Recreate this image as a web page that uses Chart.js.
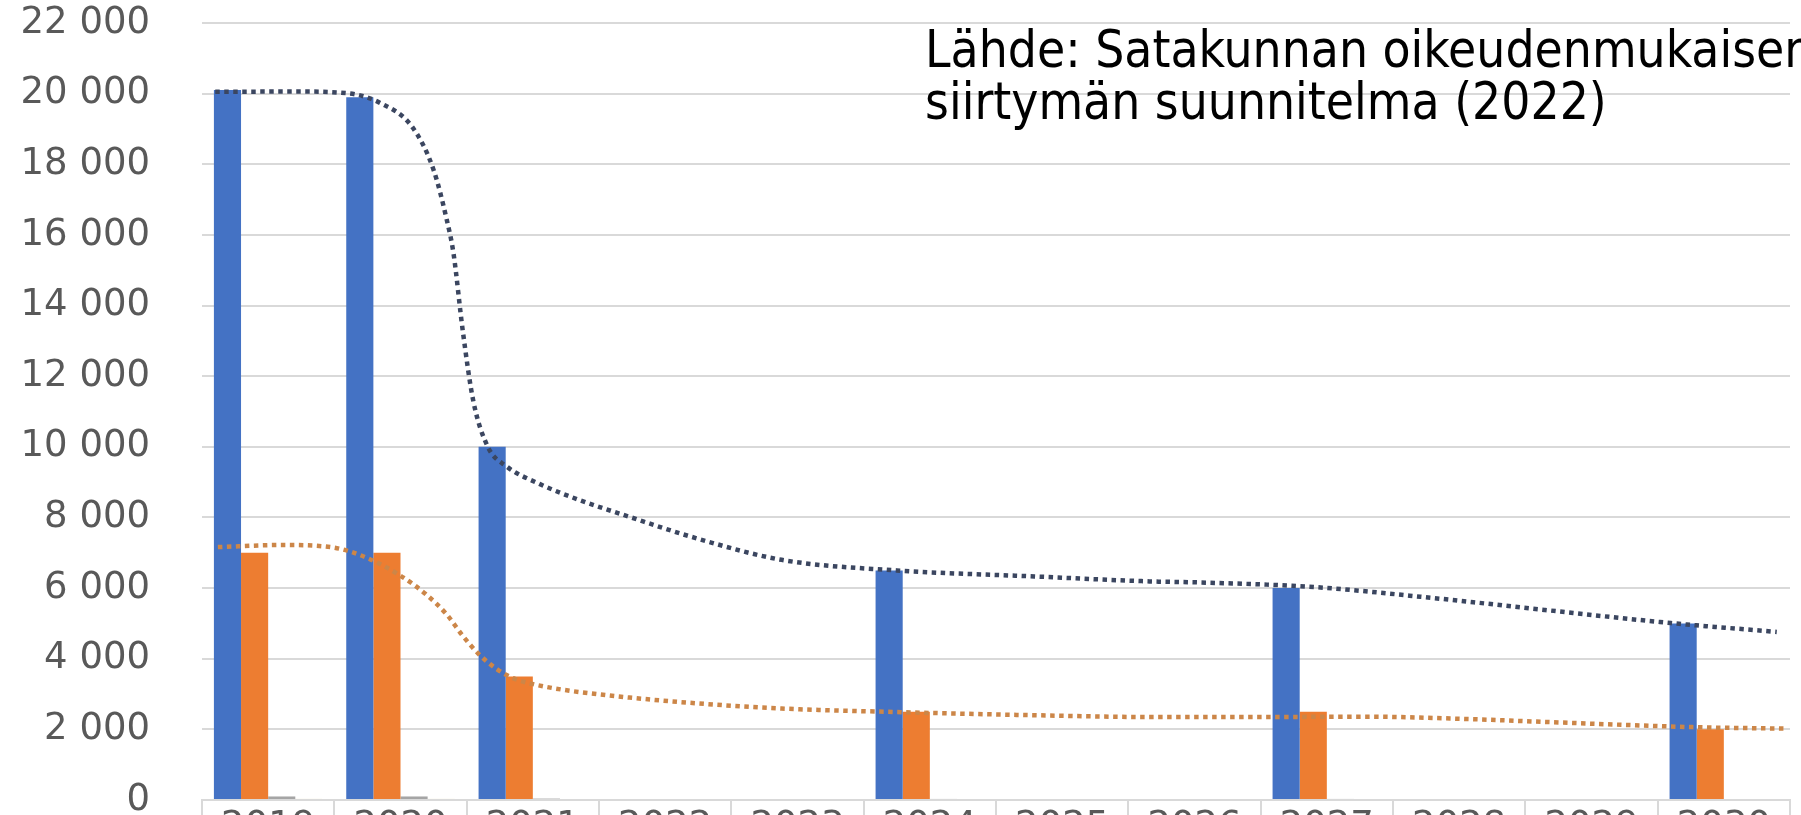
<!DOCTYPE html>
<html>
<head>
<meta charset="utf-8">
<script src="https://cdn.jsdelivr.net/npm/chart.js@4.4.0/dist/chart.umd.min.js"></script>
<style>
html, body { margin: 0; padding: 0; background: #fff; overflow: hidden; width: 1801px; height: 815px; }
#wrap { position: relative; width: 1801px; height: 870px; }
#src { position: absolute; left: 925px; top: 24px; font-family: "DejaVu Sans Condensed", "DejaVu Sans", sans-serif; font-stretch: condensed; font-size: 51px; line-height: 52px; color: #000; white-space: nowrap; }
</style>
</head>
<body>
<div id="wrap">
  <canvas id="c" width="1801" height="870"></canvas>
  <div id="src">Lähde: Satakunnan oikeudenmukaisen<br>siirtymän suunnitelma (2022)</div>
</div>
<script>
// Categories (years)
const categories = ['2019','2020','2021','2022','2023','2024','2025','2026','2027','2028','2029','2030'];

// Bar series values (null = no bar)
const seriesBlue   = [20100, 19900, 10000, null, null, 6500, null, null, 6000, null, null, 5000];
const seriesOrange = [7000, 7000, 3500, null, null, 2500, null, null, 2500, null, null, 2000];
const seriesGrey   = [100, 100, 40, null, null, 30, null, null, 30, null, null, null];
const seriesYellow = [30, 30, null, null, null, null, null, null, null, null, null, null];

// Dotted trend curves: [category position, value]
const trendBlue = [
  [-0.40, 20050], [0.20, 20060], [0.60, 20010], [0.85, 19730], [1.09, 19050],
  [1.25, 17840], [1.35, 16420], [1.40, 15490], [1.47, 13300], [1.55, 11300],
  [1.66, 10000], [1.80, 9450], [2.05, 8950], [2.34, 8510], [2.72, 8030],
  [3.20, 7450], [3.88, 6800], [4.75, 6500], [5.79, 6330], [6.66, 6190],
  [7.04, 6160], [7.90, 6030], [8.80, 5720], [9.65, 5380], [10.60, 5010], [11.40, 4760]
];
const trendOrange = [
  [-0.38, 7160], [0.10, 7220], [0.49, 7150], [0.75, 6850], [1.00, 6350],
  [1.20, 5800], [1.35, 5250], [1.47, 4650], [1.60, 4100], [1.73, 3700],
  [1.85, 3450], [1.98, 3300], [2.23, 3120], [2.48, 3000], [2.73, 2900],
  [3.30, 2720], [3.88, 2590], [4.75, 2490], [5.79, 2400], [6.66, 2350],
  [7.50, 2350], [8.30, 2360], [9.00, 2300], [9.65, 2210], [10.30, 2120],
  [10.80, 2060], [11.47, 2020]
];

// Y tick labels
const yTickLabels = ['0','2 000','4 000','6 000','8 000','10 000','12 000','14 000','16 000','18 000','20 000','22 000'];

const tickFont = { family: 'DejaVu Sans', size: 37 };
const toPoints = arr => arr.map((v, i) => ({ x: i, y: v }));
const toXY = arr => arr.map(p => ({ x: p[0], y: p[1] }));
const barCommon = { type: 'bar', categoryPercentage: 0.82, barPercentage: 1, order: 1 };
const lineCommon = { type: 'line', borderWidth: 4.5, borderDash: [4.5, 4.5], borderCapStyle: 'butt',
  pointRadius: 0, cubicInterpolationMode: 'monotone', fill: false, order: 0 };

const ctx = document.getElementById('c').getContext('2d');
new Chart(ctx, {
  data: {
    datasets: [
      Object.assign({ label: 'Trendi 1', data: toXY(trendBlue), borderColor: '#3B4660' }, lineCommon),
      Object.assign({ label: 'Trendi 2', data: toXY(trendOrange), borderColor: '#CC8648' }, lineCommon),
      Object.assign({ label: 'Sarja 1', data: toPoints(seriesBlue), backgroundColor: '#4472C4' }, barCommon),
      Object.assign({ label: 'Sarja 2', data: toPoints(seriesOrange), backgroundColor: '#ED7D31' }, barCommon),
      Object.assign({ label: 'Sarja 3', data: toPoints(seriesGrey), backgroundColor: '#A5A5A5' }, barCommon),
      Object.assign({ label: 'Sarja 4', data: toPoints(seriesYellow), backgroundColor: '#D9CF8A' }, barCommon)
    ]
  },
  options: {
    responsive: false,
    animation: false,
    devicePixelRatio: 1,
    layout: { padding: { top: 23, right: 11, bottom: 0, left: 0 } },
    plugins: { legend: { display: false }, tooltip: { enabled: false }, title: { display: false } },
    scales: {
      x: {
        type: 'linear', position: 'bottom', min: -0.5, max: 11.5, offset: false,
        afterBuildTicks: s => { s.ticks = categories.map((c, i) => ({ value: i })); },
        grid: { offset: true, drawOnChartArea: false, drawTicks: true, tickLength: 70, color: '#d9d9d9', lineWidth: 2 },
        border: { display: true, color: '#d9d9d9', width: 2 },
        ticks: { padding: -65, color: '#595959', font: tickFont, maxRotation: 0, autoSkip: false,
                 callback: (v, i) => categories[i] },
        afterFit: s => { s.height = 70; }
      },
      y: {
        min: 0, max: 22000,
        ticks: { stepSize: 2000, padding: 52, color: '#595959', font: tickFont,
                 callback: (v, i) => yTickLabels[i] },
        grid: { color: '#d9d9d9', lineWidth: 2, drawTicks: false },
        border: { display: false },
        afterFit: s => { s.width = 202; s.paddingTop = 0; s.paddingBottom = 0; }
      }
    }
  }
});
</script>
</body>
</html>
